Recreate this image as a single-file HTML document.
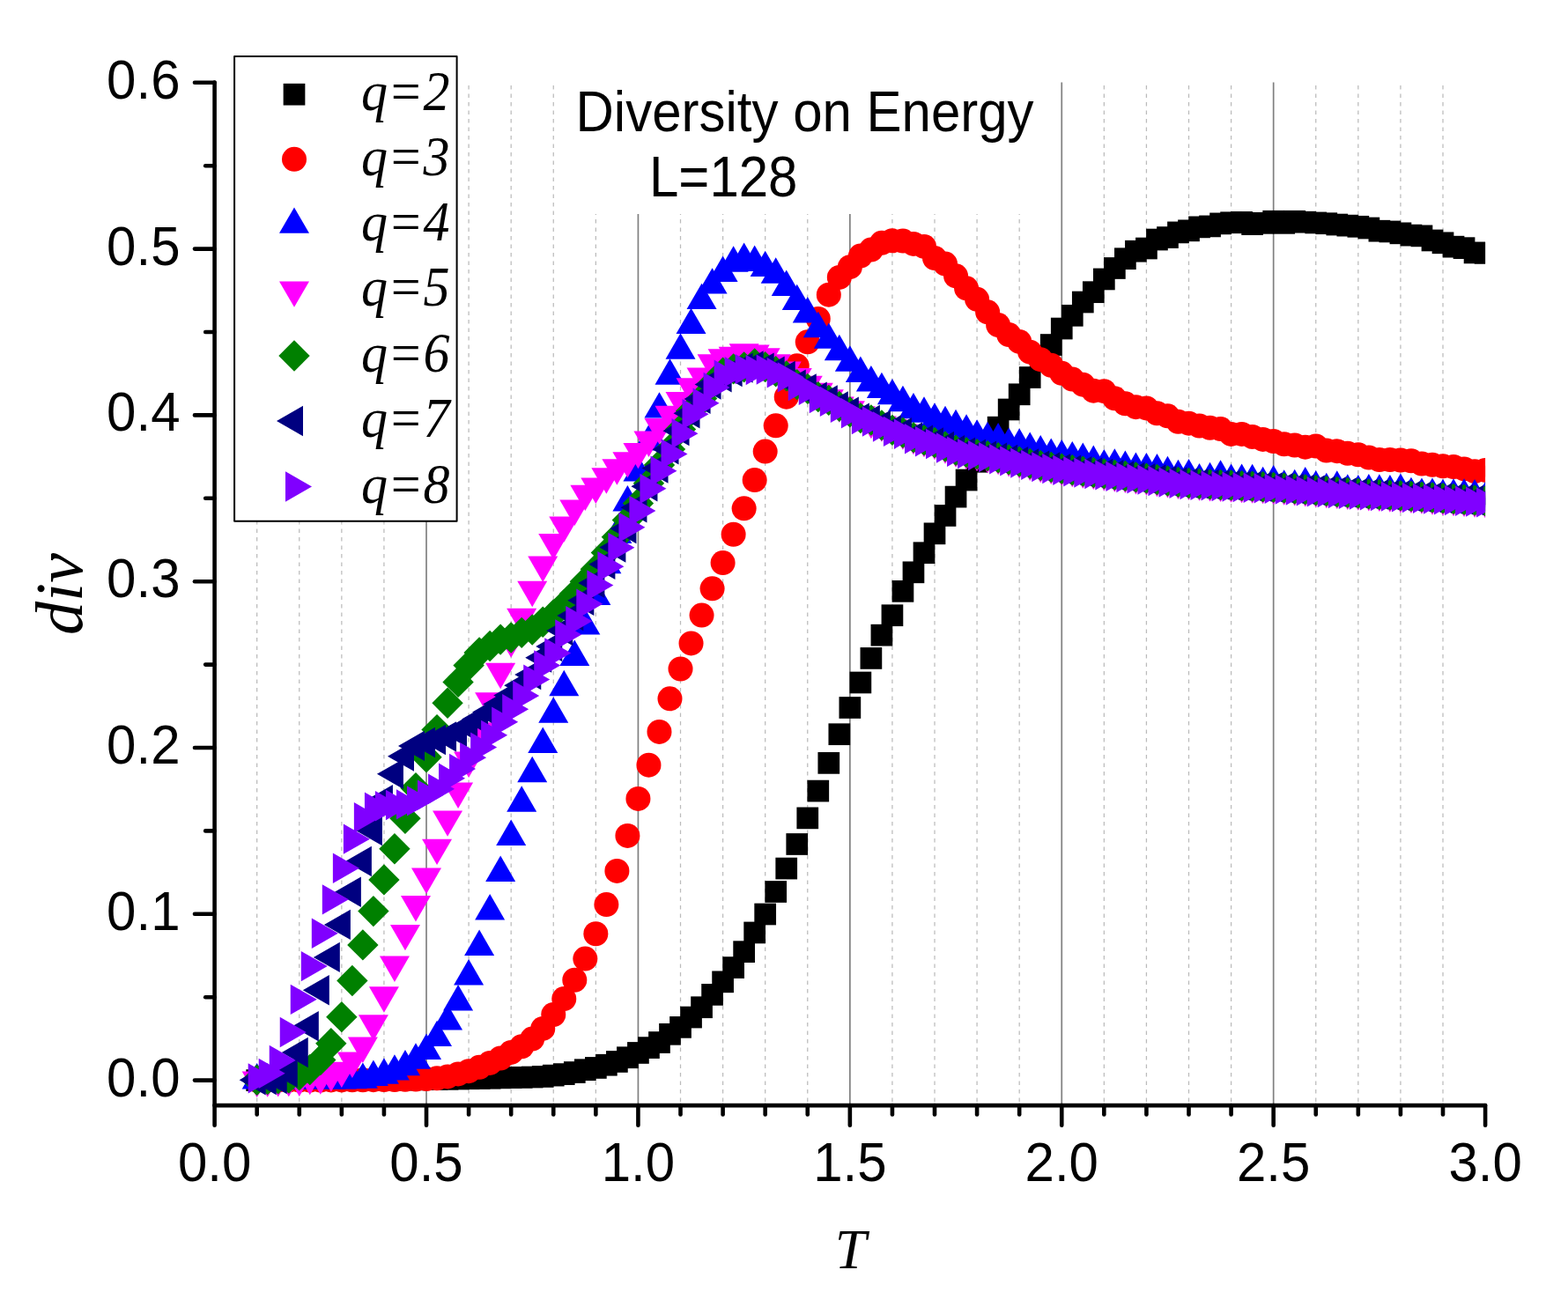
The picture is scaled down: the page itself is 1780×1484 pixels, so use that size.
<!DOCTYPE html><html><head><meta charset="utf-8"><style>html,body{margin:0;padding:0;background:#fff;}svg{display:block;}</style></head><body>
<svg width="1780" height="1484" viewBox="0 0 1780 1484">
<rect x="0" y="0" width="1780" height="1484" fill="#fff"/>
<defs><clipPath id="pc"><rect x="243.6" y="73.6" width="1442.5" height="1181.5"/></clipPath></defs>
<g><line x1="291.68" y1="93.6" x2="291.68" y2="1255.1" stroke="#bbbbbb" stroke-width="1.25" stroke-dasharray="4.5 5" stroke-dashoffset="6"/><line x1="339.77" y1="93.6" x2="339.77" y2="1255.1" stroke="#bbbbbb" stroke-width="1.25" stroke-dasharray="4.5 5" stroke-dashoffset="6"/><line x1="387.85" y1="93.6" x2="387.85" y2="1255.1" stroke="#bbbbbb" stroke-width="1.25" stroke-dasharray="4.5 5" stroke-dashoffset="6"/><line x1="435.93" y1="93.6" x2="435.93" y2="1255.1" stroke="#bbbbbb" stroke-width="1.25" stroke-dasharray="4.5 5" stroke-dashoffset="6"/><line x1="484.01" y1="93.6" x2="484.01" y2="1255.1" stroke="#808080" stroke-width="1.7"/><line x1="532.10" y1="93.6" x2="532.10" y2="1255.1" stroke="#bbbbbb" stroke-width="1.25" stroke-dasharray="4.5 5" stroke-dashoffset="6"/><line x1="580.18" y1="93.6" x2="580.18" y2="1255.1" stroke="#bbbbbb" stroke-width="1.25" stroke-dasharray="4.5 5" stroke-dashoffset="6"/><line x1="628.26" y1="93.6" x2="628.26" y2="1255.1" stroke="#bbbbbb" stroke-width="1.25" stroke-dasharray="4.5 5" stroke-dashoffset="6"/><line x1="676.35" y1="93.6" x2="676.35" y2="1255.1" stroke="#bbbbbb" stroke-width="1.25" stroke-dasharray="4.5 5" stroke-dashoffset="6"/><line x1="724.43" y1="93.6" x2="724.43" y2="1255.1" stroke="#808080" stroke-width="1.7"/><line x1="772.51" y1="93.6" x2="772.51" y2="1255.1" stroke="#bbbbbb" stroke-width="1.25" stroke-dasharray="4.5 5" stroke-dashoffset="6"/><line x1="820.60" y1="93.6" x2="820.60" y2="1255.1" stroke="#bbbbbb" stroke-width="1.25" stroke-dasharray="4.5 5" stroke-dashoffset="6"/><line x1="868.68" y1="93.6" x2="868.68" y2="1255.1" stroke="#bbbbbb" stroke-width="1.25" stroke-dasharray="4.5 5" stroke-dashoffset="6"/><line x1="916.76" y1="93.6" x2="916.76" y2="1255.1" stroke="#bbbbbb" stroke-width="1.25" stroke-dasharray="4.5 5" stroke-dashoffset="6"/><line x1="964.85" y1="93.6" x2="964.85" y2="1255.1" stroke="#808080" stroke-width="1.7"/><line x1="1012.93" y1="93.6" x2="1012.93" y2="1255.1" stroke="#bbbbbb" stroke-width="1.25" stroke-dasharray="4.5 5" stroke-dashoffset="6"/><line x1="1061.01" y1="93.6" x2="1061.01" y2="1255.1" stroke="#bbbbbb" stroke-width="1.25" stroke-dasharray="4.5 5" stroke-dashoffset="6"/><line x1="1109.09" y1="93.6" x2="1109.09" y2="1255.1" stroke="#bbbbbb" stroke-width="1.25" stroke-dasharray="4.5 5" stroke-dashoffset="6"/><line x1="1157.18" y1="93.6" x2="1157.18" y2="1255.1" stroke="#bbbbbb" stroke-width="1.25" stroke-dasharray="4.5 5" stroke-dashoffset="6"/><line x1="1205.26" y1="93.6" x2="1205.26" y2="1255.1" stroke="#808080" stroke-width="1.7"/><line x1="1253.34" y1="93.6" x2="1253.34" y2="1255.1" stroke="#bbbbbb" stroke-width="1.25" stroke-dasharray="4.5 5" stroke-dashoffset="6"/><line x1="1301.43" y1="93.6" x2="1301.43" y2="1255.1" stroke="#bbbbbb" stroke-width="1.25" stroke-dasharray="4.5 5" stroke-dashoffset="6"/><line x1="1349.51" y1="93.6" x2="1349.51" y2="1255.1" stroke="#bbbbbb" stroke-width="1.25" stroke-dasharray="4.5 5" stroke-dashoffset="6"/><line x1="1397.59" y1="93.6" x2="1397.59" y2="1255.1" stroke="#bbbbbb" stroke-width="1.25" stroke-dasharray="4.5 5" stroke-dashoffset="6"/><line x1="1445.67" y1="93.6" x2="1445.67" y2="1255.1" stroke="#808080" stroke-width="1.7"/><line x1="1493.76" y1="93.6" x2="1493.76" y2="1255.1" stroke="#bbbbbb" stroke-width="1.25" stroke-dasharray="4.5 5" stroke-dashoffset="6"/><line x1="1541.84" y1="93.6" x2="1541.84" y2="1255.1" stroke="#bbbbbb" stroke-width="1.25" stroke-dasharray="4.5 5" stroke-dashoffset="6"/><line x1="1589.92" y1="93.6" x2="1589.92" y2="1255.1" stroke="#bbbbbb" stroke-width="1.25" stroke-dasharray="4.5 5" stroke-dashoffset="6"/><line x1="1638.01" y1="93.6" x2="1638.01" y2="1255.1" stroke="#bbbbbb" stroke-width="1.25" stroke-dasharray="4.5 5" stroke-dashoffset="6"/></g>
<rect x="650" y="90" width="532" height="153" fill="#fff"/>
<g clip-path="url(#pc)">
<g fill="#000000"><rect x="279.33" y="1214.25" width="24.7" height="24.7"/><rect x="291.35" y="1214.24" width="24.7" height="24.7"/><rect x="303.37" y="1214.22" width="24.7" height="24.7"/><rect x="315.40" y="1214.20" width="24.7" height="24.7"/><rect x="327.42" y="1214.18" width="24.7" height="24.7"/><rect x="339.44" y="1214.15" width="24.7" height="24.7"/><rect x="351.46" y="1214.12" width="24.7" height="24.7"/><rect x="363.48" y="1214.09" width="24.7" height="24.7"/><rect x="375.50" y="1214.06" width="24.7" height="24.7"/><rect x="387.52" y="1214.03" width="24.7" height="24.7"/><rect x="399.54" y="1213.99" width="24.7" height="24.7"/><rect x="411.56" y="1213.94" width="24.7" height="24.7"/><rect x="423.58" y="1213.87" width="24.7" height="24.7"/><rect x="435.60" y="1213.78" width="24.7" height="24.7"/><rect x="447.62" y="1213.64" width="24.7" height="24.7"/><rect x="459.64" y="1213.48" width="24.7" height="24.7"/><rect x="471.66" y="1213.31" width="24.7" height="24.7"/><rect x="483.69" y="1213.11" width="24.7" height="24.7"/><rect x="495.71" y="1212.87" width="24.7" height="24.7"/><rect x="507.73" y="1212.62" width="24.7" height="24.7"/><rect x="519.75" y="1212.36" width="24.7" height="24.7"/><rect x="531.77" y="1212.09" width="24.7" height="24.7"/><rect x="543.79" y="1211.81" width="24.7" height="24.7"/><rect x="555.81" y="1211.52" width="24.7" height="24.7"/><rect x="567.83" y="1211.23" width="24.7" height="24.7"/><rect x="579.85" y="1210.97" width="24.7" height="24.7"/><rect x="591.87" y="1210.66" width="24.7" height="24.7"/><rect x="603.89" y="1210.10" width="24.7" height="24.7"/><rect x="615.91" y="1208.77" width="24.7" height="24.7"/><rect x="627.93" y="1207.26" width="24.7" height="24.7"/><rect x="639.96" y="1205.19" width="24.7" height="24.7"/><rect x="651.98" y="1202.36" width="24.7" height="24.7"/><rect x="664.00" y="1200.09" width="24.7" height="24.7"/><rect x="676.02" y="1196.88" width="24.7" height="24.7"/><rect x="688.04" y="1193.10" width="24.7" height="24.7"/><rect x="700.06" y="1188.38" width="24.7" height="24.7"/><rect x="712.08" y="1183.10" width="24.7" height="24.7"/><rect x="724.10" y="1177.25" width="24.7" height="24.7"/><rect x="736.12" y="1171.20" width="24.7" height="24.7"/><rect x="748.14" y="1161.95" width="24.7" height="24.7"/><rect x="760.16" y="1154.02" width="24.7" height="24.7"/><rect x="772.18" y="1142.69" width="24.7" height="24.7"/><rect x="784.20" y="1131.37" width="24.7" height="24.7"/><rect x="796.23" y="1117.02" width="24.7" height="24.7"/><rect x="808.25" y="1102.48" width="24.7" height="24.7"/><rect x="820.27" y="1086.24" width="24.7" height="24.7"/><rect x="832.29" y="1068.31" width="24.7" height="24.7"/><rect x="844.31" y="1046.60" width="24.7" height="24.7"/><rect x="856.33" y="1025.64" width="24.7" height="24.7"/><rect x="868.35" y="1000.15" width="24.7" height="24.7"/><rect x="880.37" y="973.72" width="24.7" height="24.7"/><rect x="892.39" y="946.15" width="24.7" height="24.7"/><rect x="904.41" y="916.51" width="24.7" height="24.7"/><rect x="916.43" y="885.74" width="24.7" height="24.7"/><rect x="928.45" y="854.02" width="24.7" height="24.7"/><rect x="940.47" y="821.36" width="24.7" height="24.7"/><rect x="952.50" y="791.15" width="24.7" height="24.7"/><rect x="964.52" y="762.64" width="24.7" height="24.7"/><rect x="976.54" y="735.08" width="24.7" height="24.7"/><rect x="988.56" y="708.83" width="24.7" height="24.7"/><rect x="1000.58" y="686.37" width="24.7" height="24.7"/><rect x="1012.60" y="658.99" width="24.7" height="24.7"/><rect x="1024.62" y="637.47" width="24.7" height="24.7"/><rect x="1036.64" y="615.38" width="24.7" height="24.7"/><rect x="1048.66" y="593.48" width="24.7" height="24.7"/><rect x="1060.68" y="573.09" width="24.7" height="24.7"/><rect x="1072.70" y="551.75" width="24.7" height="24.7"/><rect x="1084.72" y="532.68" width="24.7" height="24.7"/><rect x="1096.74" y="511.91" width="24.7" height="24.7"/><rect x="1108.76" y="491.15" width="24.7" height="24.7"/><rect x="1120.79" y="472.83" width="24.7" height="24.7"/><rect x="1132.81" y="452.63" width="24.7" height="24.7"/><rect x="1144.83" y="435.45" width="24.7" height="24.7"/><rect x="1156.85" y="416.19" width="24.7" height="24.7"/><rect x="1168.87" y="397.69" width="24.7" height="24.7"/><rect x="1180.89" y="379.19" width="24.7" height="24.7"/><rect x="1192.91" y="360.69" width="24.7" height="24.7"/><rect x="1204.93" y="345.96" width="24.7" height="24.7"/><rect x="1216.95" y="330.67" width="24.7" height="24.7"/><rect x="1228.97" y="319.34" width="24.7" height="24.7"/><rect x="1240.99" y="304.61" width="24.7" height="24.7"/><rect x="1253.01" y="292.15" width="24.7" height="24.7"/><rect x="1265.03" y="281.39" width="24.7" height="24.7"/><rect x="1277.06" y="272.89" width="24.7" height="24.7"/><rect x="1289.08" y="269.68" width="24.7" height="24.7"/><rect x="1301.10" y="259.68" width="24.7" height="24.7"/><rect x="1313.12" y="257.22" width="24.7" height="24.7"/><rect x="1325.14" y="251.56" width="24.7" height="24.7"/><rect x="1337.16" y="249.48" width="24.7" height="24.7"/><rect x="1349.18" y="245.52" width="24.7" height="24.7"/><rect x="1361.20" y="244.57" width="24.7" height="24.7"/><rect x="1373.22" y="241.55" width="24.7" height="24.7"/><rect x="1385.24" y="240.42" width="24.7" height="24.7"/><rect x="1397.26" y="240.04" width="24.7" height="24.7"/><rect x="1409.28" y="242.31" width="24.7" height="24.7"/><rect x="1421.30" y="240.99" width="24.7" height="24.7"/><rect x="1433.33" y="238.91" width="24.7" height="24.7"/><rect x="1445.35" y="240.99" width="24.7" height="24.7"/><rect x="1457.37" y="238.91" width="24.7" height="24.7"/><rect x="1469.39" y="239.85" width="24.7" height="24.7"/><rect x="1481.41" y="240.61" width="24.7" height="24.7"/><rect x="1493.43" y="241.36" width="24.7" height="24.7"/><rect x="1505.45" y="242.69" width="24.7" height="24.7"/><rect x="1517.47" y="243.78" width="24.7" height="24.7"/><rect x="1529.49" y="244.95" width="24.7" height="24.7"/><rect x="1541.51" y="246.65" width="24.7" height="24.7"/><rect x="1553.53" y="249.86" width="24.7" height="24.7"/><rect x="1565.55" y="250.61" width="24.7" height="24.7"/><rect x="1577.57" y="252.50" width="24.7" height="24.7"/><rect x="1589.59" y="254.77" width="24.7" height="24.7"/><rect x="1601.62" y="255.52" width="24.7" height="24.7"/><rect x="1613.64" y="260.62" width="24.7" height="24.7"/><rect x="1625.66" y="263.45" width="24.7" height="24.7"/><rect x="1637.68" y="267.80" width="24.7" height="24.7"/><rect x="1649.70" y="269.31" width="24.7" height="24.7"/><rect x="1661.72" y="274.59" width="24.7" height="24.7"/><rect x="1673.74" y="274.97" width="24.7" height="24.7"/></g>
<g fill="#ff0000"><circle cx="291.68" cy="1226.60" r="14"/><circle cx="303.70" cy="1226.60" r="14"/><circle cx="315.72" cy="1226.59" r="14"/><circle cx="327.75" cy="1226.57" r="14"/><circle cx="339.77" cy="1226.54" r="14"/><circle cx="351.79" cy="1226.52" r="14"/><circle cx="363.81" cy="1226.48" r="14"/><circle cx="375.83" cy="1226.45" r="14"/><circle cx="387.85" cy="1226.41" r="14"/><circle cx="399.87" cy="1226.37" r="14"/><circle cx="411.89" cy="1226.30" r="14"/><circle cx="423.91" cy="1226.22" r="14"/><circle cx="435.93" cy="1226.12" r="14"/><circle cx="447.95" cy="1226.00" r="14"/><circle cx="459.97" cy="1225.84" r="14"/><circle cx="471.99" cy="1225.56" r="14"/><circle cx="484.01" cy="1225.09" r="14"/><circle cx="496.04" cy="1224.33" r="14"/><circle cx="508.06" cy="1222.45" r="14"/><circle cx="520.08" cy="1219.43" r="14"/><circle cx="532.10" cy="1216.22" r="14"/><circle cx="544.12" cy="1211.87" r="14"/><circle cx="556.14" cy="1206.96" r="14"/><circle cx="568.16" cy="1201.49" r="14"/><circle cx="580.18" cy="1194.88" r="14"/><circle cx="592.20" cy="1188.27" r="14"/><circle cx="604.22" cy="1179.59" r="14"/><circle cx="616.24" cy="1167.88" r="14"/><circle cx="628.26" cy="1152.02" r="14"/><circle cx="640.28" cy="1134.09" r="14"/><circle cx="652.31" cy="1112.75" r="14"/><circle cx="664.33" cy="1088.59" r="14"/><circle cx="676.35" cy="1060.27" r="14"/><circle cx="688.37" cy="1027.04" r="14"/><circle cx="700.39" cy="988.90" r="14"/><circle cx="712.41" cy="948.88" r="14"/><circle cx="724.43" cy="906.96" r="14"/><circle cx="736.45" cy="868.64" r="14"/><circle cx="748.47" cy="830.88" r="14"/><circle cx="760.49" cy="793.30" r="14"/><circle cx="772.51" cy="759.51" r="14"/><circle cx="784.53" cy="730.43" r="14"/><circle cx="796.55" cy="698.53" r="14"/><circle cx="808.58" cy="668.32" r="14"/><circle cx="820.60" cy="639.05" r="14"/><circle cx="832.62" cy="606.77" r="14"/><circle cx="844.64" cy="577.32" r="14"/><circle cx="856.66" cy="545.03" r="14"/><circle cx="868.68" cy="512.56" r="14"/><circle cx="880.70" cy="483.29" r="14"/><circle cx="892.72" cy="450.63" r="14"/><circle cx="904.74" cy="415.33" r="14"/><circle cx="916.76" cy="388.33" r="14"/><circle cx="928.78" cy="361.90" r="14"/><circle cx="940.80" cy="334.71" r="14"/><circle cx="952.82" cy="314.88" r="14"/><circle cx="964.85" cy="303.18" r="14"/><circle cx="976.87" cy="290.53" r="14"/><circle cx="988.89" cy="283.54" r="14"/><circle cx="1000.91" cy="275.80" r="14"/><circle cx="1012.93" cy="273.35" r="14"/><circle cx="1024.95" cy="273.54" r="14"/><circle cx="1036.97" cy="276.94" r="14"/><circle cx="1048.99" cy="279.96" r="14"/><circle cx="1061.01" cy="292.98" r="14"/><circle cx="1073.03" cy="299.59" r="14"/><circle cx="1085.05" cy="313.37" r="14"/><circle cx="1097.07" cy="327.35" r="14"/><circle cx="1109.09" cy="339.81" r="14"/><circle cx="1121.11" cy="354.34" r="14"/><circle cx="1133.14" cy="369.07" r="14"/><circle cx="1145.16" cy="380.02" r="14"/><circle cx="1157.18" cy="387.95" r="14"/><circle cx="1169.20" cy="399.66" r="14"/><circle cx="1181.22" cy="408.15" r="14"/><circle cx="1193.24" cy="414.76" r="14"/><circle cx="1205.26" cy="423.82" r="14"/><circle cx="1217.28" cy="430.62" r="14"/><circle cx="1229.30" cy="436.66" r="14"/><circle cx="1241.32" cy="443.65" r="14"/><circle cx="1253.34" cy="444.21" r="14"/><circle cx="1265.36" cy="452.33" r="14"/><circle cx="1277.38" cy="458.37" r="14"/><circle cx="1289.41" cy="462.15" r="14"/><circle cx="1301.43" cy="463.47" r="14"/><circle cx="1313.45" cy="469.32" r="14"/><circle cx="1325.47" cy="472.34" r="14"/><circle cx="1337.49" cy="478.76" r="14"/><circle cx="1349.51" cy="480.65" r="14"/><circle cx="1361.53" cy="483.48" r="14"/><circle cx="1373.55" cy="485.75" r="14"/><circle cx="1385.57" cy="487.07" r="14"/><circle cx="1397.59" cy="492.92" r="14"/><circle cx="1409.61" cy="492.92" r="14"/><circle cx="1421.63" cy="495.94" r="14"/><circle cx="1433.65" cy="498.96" r="14"/><circle cx="1445.67" cy="501.04" r="14"/><circle cx="1457.70" cy="504.25" r="14"/><circle cx="1469.72" cy="505.57" r="14"/><circle cx="1481.74" cy="507.65" r="14"/><circle cx="1493.76" cy="506.52" r="14"/><circle cx="1505.78" cy="511.61" r="14"/><circle cx="1517.80" cy="512.18" r="14"/><circle cx="1529.82" cy="514.82" r="14"/><circle cx="1541.84" cy="516.33" r="14"/><circle cx="1553.86" cy="519.54" r="14"/><circle cx="1565.88" cy="522.00" r="14"/><circle cx="1577.90" cy="522.00" r="14"/><circle cx="1589.92" cy="522.56" r="14"/><circle cx="1601.94" cy="523.32" r="14"/><circle cx="1613.97" cy="526.53" r="14"/><circle cx="1625.99" cy="527.85" r="14"/><circle cx="1638.01" cy="529.36" r="14"/><circle cx="1650.03" cy="530.12" r="14"/><circle cx="1662.05" cy="532.38" r="14"/><circle cx="1674.07" cy="535.21" r="14"/><circle cx="1686.09" cy="533.89" r="14"/></g>
<g fill="#0000ff"><path d="M291.68 1207.00l17 29.4h-34z"/><path d="M303.70 1207.00l17 29.4h-34z"/><path d="M315.72 1207.00l17 29.4h-34z"/><path d="M327.75 1207.00l17 29.4h-34z"/><path d="M339.77 1207.00l17 29.4h-34z"/><path d="M351.79 1207.00l17 29.4h-34z"/><path d="M363.81 1207.00l17 29.4h-34z"/><path d="M375.83 1207.00l17 29.4h-34z"/><path d="M387.85 1207.00l17 29.4h-34z"/><path d="M399.87 1206.86l17 29.4h-34z"/><path d="M411.89 1206.43l17 29.4h-34z"/><path d="M423.91 1203.60l17 29.4h-34z"/><path d="M435.93 1201.34l17 29.4h-34z"/><path d="M447.95 1197.18l17 29.4h-34z"/><path d="M459.97 1191.90l17 29.4h-34z"/><path d="M471.99 1184.34l17 29.4h-34z"/><path d="M484.01 1173.58l17 29.4h-34z"/><path d="M496.04 1158.67l17 29.4h-34z"/><path d="M508.06 1140.16l17 29.4h-34z"/><path d="M520.08 1118.08l17 29.4h-34z"/><path d="M532.10 1089.00l17 29.4h-34z"/><path d="M544.12 1055.58l17 29.4h-34z"/><path d="M556.14 1014.99l17 29.4h-34z"/><path d="M568.16 971.57l17 29.4h-34z"/><path d="M580.18 930.60l17 29.4h-34z"/><path d="M592.20 892.27l17 29.4h-34z"/><path d="M604.22 858.85l17 29.4h-34z"/><path d="M616.24 825.62l17 29.4h-34z"/><path d="M628.26 791.26l17 29.4h-34z"/><path d="M640.28 760.87l17 29.4h-34z"/><path d="M652.31 726.50l17 29.4h-34z"/><path d="M664.33 691.20l17 29.4h-34z"/><path d="M676.35 657.59l17 29.4h-34z"/><path d="M688.37 621.91l17 29.4h-34z"/><path d="M700.39 587.55l17 29.4h-34z"/><path d="M712.41 551.11l17 29.4h-34z"/><path d="M724.43 517.12l17 29.4h-34z"/><path d="M736.45 482.01l17 29.4h-34z"/><path d="M748.47 445.19l17 29.4h-34z"/><path d="M760.49 407.24l17 29.4h-34z"/><path d="M772.51 378.36l17 29.4h-34z"/><path d="M784.53 349.66l17 29.4h-34z"/><path d="M796.55 321.72l17 29.4h-34z"/><path d="M808.58 304.16l17 29.4h-34z"/><path d="M820.60 290.56l17 29.4h-34z"/><path d="M832.62 279.24l17 29.4h-34z"/><path d="M844.64 275.46l17 29.4h-34z"/><path d="M856.66 278.48l17 29.4h-34z"/><path d="M868.68 284.71l17 29.4h-34z"/><path d="M880.70 292.26l17 29.4h-34z"/><path d="M892.72 306.61l17 29.4h-34z"/><path d="M904.74 322.66l17 29.4h-34z"/><path d="M916.76 337.01l17 29.4h-34z"/><path d="M928.78 353.81l17 29.4h-34z"/><path d="M940.80 366.46l17 29.4h-34z"/><path d="M952.82 379.87l17 29.4h-34z"/><path d="M964.85 392.33l17 29.4h-34z"/><path d="M976.87 404.60l17 29.4h-34z"/><path d="M988.89 414.98l17 29.4h-34z"/><path d="M1000.91 422.72l17 29.4h-34z"/><path d="M1012.93 429.90l17 29.4h-34z"/><path d="M1024.95 437.83l17 29.4h-34z"/><path d="M1036.97 445.95l17 29.4h-34z"/><path d="M1048.99 450.29l17 29.4h-34z"/><path d="M1061.01 457.28l17 29.4h-34z"/><path d="M1073.03 460.86l17 29.4h-34z"/><path d="M1085.05 464.83l17 29.4h-34z"/><path d="M1097.07 470.30l17 29.4h-34z"/><path d="M1109.09 476.16l17 29.4h-34z"/><path d="M1121.11 478.80l17 29.4h-34z"/><path d="M1133.14 480.12l17 29.4h-34z"/><path d="M1145.16 485.60l17 29.4h-34z"/><path d="M1157.18 486.35l17 29.4h-34z"/><path d="M1169.20 490.50l17 29.4h-34z"/><path d="M1181.22 494.09l17 29.4h-34z"/><path d="M1193.24 497.49l17 29.4h-34z"/><path d="M1205.26 499.00l17 29.4h-34z"/><path d="M1217.28 500.89l17 29.4h-34z"/><path d="M1229.30 502.59l17 29.4h-34z"/><path d="M1241.32 505.61l17 29.4h-34z"/><path d="M1253.34 509.95l17 29.4h-34z"/><path d="M1265.36 509.20l17 29.4h-34z"/><path d="M1277.38 511.46l17 29.4h-34z"/><path d="M1289.41 513.54l17 29.4h-34z"/><path d="M1301.43 513.92l17 29.4h-34z"/><path d="M1313.45 515.05l17 29.4h-34z"/><path d="M1325.47 517.69l17 29.4h-34z"/><path d="M1337.49 521.66l17 29.4h-34z"/><path d="M1349.51 520.90l17 29.4h-34z"/><path d="M1361.53 526.00l17 29.4h-34z"/><path d="M1373.55 524.87l17 29.4h-34z"/><path d="M1385.57 522.22l17 29.4h-34z"/><path d="M1397.59 526.38l17 29.4h-34z"/><path d="M1409.61 526.38l17 29.4h-34z"/><path d="M1421.63 526.75l17 29.4h-34z"/><path d="M1433.65 529.77l17 29.4h-34z"/><path d="M1445.67 528.08l17 29.4h-34z"/><path d="M1457.70 533.17l17 29.4h-34z"/><path d="M1469.72 532.80l17 29.4h-34z"/><path d="M1481.74 529.96l17 29.4h-34z"/><path d="M1493.76 533.93l17 29.4h-34z"/><path d="M1505.78 536.76l17 29.4h-34z"/><path d="M1517.80 534.31l17 29.4h-34z"/><path d="M1529.82 538.27l17 29.4h-34z"/><path d="M1541.84 539.03l17 29.4h-34z"/><path d="M1553.86 537.89l17 29.4h-34z"/><path d="M1565.88 538.27l17 29.4h-34z"/><path d="M1577.90 539.03l17 29.4h-34z"/><path d="M1589.92 537.52l17 29.4h-34z"/><path d="M1601.94 541.67l17 29.4h-34z"/><path d="M1613.97 542.42l17 29.4h-34z"/><path d="M1625.99 542.42l17 29.4h-34z"/><path d="M1638.01 543.75l17 29.4h-34z"/><path d="M1650.03 543.37l17 29.4h-34z"/><path d="M1662.05 543.37l17 29.4h-34z"/><path d="M1674.07 543.93l17 29.4h-34z"/><path d="M1686.09 546.77l17 29.4h-34z"/></g>
<g fill="#ff00ff"><path d="M291.68 1246.01l17 -29.4h-34z"/><path d="M303.70 1245.73l17 -29.4h-34z"/><path d="M315.72 1245.44l17 -29.4h-34z"/><path d="M327.75 1245.22l17 -29.4h-34z"/><path d="M339.77 1244.88l17 -29.4h-34z"/><path d="M351.79 1243.18l17 -29.4h-34z"/><path d="M363.81 1242.80l17 -29.4h-34z"/><path d="M375.83 1239.78l17 -29.4h-34z"/><path d="M387.85 1235.06l17 -29.4h-34z"/><path d="M399.87 1223.92l17 -29.4h-34z"/><path d="M411.89 1206.93l17 -29.4h-34z"/><path d="M423.91 1181.63l17 -29.4h-34z"/><path d="M435.93 1149.72l17 -29.4h-34z"/><path d="M447.95 1114.98l17 -29.4h-34z"/><path d="M459.97 1079.30l17 -29.4h-34z"/><path d="M471.99 1046.45l17 -29.4h-34z"/><path d="M484.01 1014.92l17 -29.4h-34z"/><path d="M496.04 982.07l17 -29.4h-34z"/><path d="M508.06 949.78l17 -29.4h-34z"/><path d="M520.08 917.88l17 -29.4h-34z"/><path d="M532.10 882.95l17 -29.4h-34z"/><path d="M544.12 849.72l17 -29.4h-34z"/><path d="M556.14 815.74l17 -29.4h-34z"/><path d="M568.16 782.13l17 -29.4h-34z"/><path d="M580.18 746.82l17 -29.4h-34z"/><path d="M592.20 720.20l17 -29.4h-34z"/><path d="M604.22 689.24l17 -29.4h-34z"/><path d="M616.24 660.92l17 -29.4h-34z"/><path d="M628.26 635.43l17 -29.4h-34z"/><path d="M640.28 615.80l17 -29.4h-34z"/><path d="M652.31 596.92l17 -29.4h-34z"/><path d="M664.33 580.11l17 -29.4h-34z"/><path d="M676.35 572.00l17 -29.4h-34z"/><path d="M688.37 560.67l17 -29.4h-34z"/><path d="M700.39 550.66l17 -29.4h-34z"/><path d="M712.41 542.54l17 -29.4h-34z"/><path d="M724.43 532.35l17 -29.4h-34z"/><path d="M736.45 518.94l17 -29.4h-34z"/><path d="M748.47 504.40l17 -29.4h-34z"/><path d="M760.49 490.06l17 -29.4h-34z"/><path d="M772.51 474.39l17 -29.4h-34z"/><path d="M784.53 458.72l17 -29.4h-34z"/><path d="M796.55 446.82l17 -29.4h-34z"/><path d="M808.58 431.72l17 -29.4h-34z"/><path d="M820.60 425.68l17 -29.4h-34z"/><path d="M832.62 423.22l17 -29.4h-34z"/><path d="M844.64 419.63l17 -29.4h-34z"/><path d="M856.66 420.96l17 -29.4h-34z"/><path d="M868.68 424.73l17 -29.4h-34z"/><path d="M880.70 431.72l17 -29.4h-34z"/><path d="M892.72 440.02l17 -29.4h-34z"/><path d="M904.74 447.39l17 -29.4h-34z"/><path d="M916.76 456.07l17 -29.4h-34z"/><path d="M928.78 464.19l17 -29.4h-34z"/><path d="M940.80 471.74l17 -29.4h-34z"/><path d="M952.82 479.86l17 -29.4h-34z"/><path d="M964.85 484.77l17 -29.4h-34z"/><path d="M976.87 490.62l17 -29.4h-34z"/><path d="M988.89 498.17l17 -29.4h-34z"/><path d="M1000.91 501.84l17 -29.4h-34z"/><path d="M1012.93 505.16l17 -29.4h-34z"/><path d="M1024.95 510.84l17 -29.4h-34z"/><path d="M1036.97 516.30l17 -29.4h-34z"/><path d="M1048.99 519.31l17 -29.4h-34z"/><path d="M1061.01 522.15l17 -29.4h-34z"/><path d="M1073.03 526.64l17 -29.4h-34z"/><path d="M1085.05 530.84l17 -29.4h-34z"/><path d="M1097.07 533.20l17 -29.4h-34z"/><path d="M1109.09 535.18l17 -29.4h-34z"/><path d="M1121.11 537.26l17 -29.4h-34z"/><path d="M1133.14 539.33l17 -29.4h-34z"/><path d="M1145.16 541.48l17 -29.4h-34z"/><path d="M1157.18 543.68l17 -29.4h-34z"/><path d="M1169.20 545.99l17 -29.4h-34z"/><path d="M1181.22 548.21l17 -29.4h-34z"/><path d="M1193.24 550.10l17 -29.4h-34z"/><path d="M1205.26 551.79l17 -29.4h-34z"/><path d="M1217.28 553.32l17 -29.4h-34z"/><path d="M1229.30 554.74l17 -29.4h-34z"/><path d="M1241.32 556.10l17 -29.4h-34z"/><path d="M1253.34 557.46l17 -29.4h-34z"/><path d="M1265.36 558.80l17 -29.4h-34z"/><path d="M1277.38 560.12l17 -29.4h-34z"/><path d="M1289.41 561.43l17 -29.4h-34z"/><path d="M1301.43 562.74l17 -29.4h-34z"/><path d="M1313.45 564.15l17 -29.4h-34z"/><path d="M1325.47 565.61l17 -29.4h-34z"/><path d="M1337.49 566.96l17 -29.4h-34z"/><path d="M1349.51 568.03l17 -29.4h-34z"/><path d="M1361.53 568.82l17 -29.4h-34z"/><path d="M1373.55 569.49l17 -29.4h-34z"/><path d="M1385.57 570.08l17 -29.4h-34z"/><path d="M1397.59 570.67l17 -29.4h-34z"/><path d="M1409.61 571.24l17 -29.4h-34z"/><path d="M1421.63 571.77l17 -29.4h-34z"/><path d="M1433.65 572.32l17 -29.4h-34z"/><path d="M1445.67 572.94l17 -29.4h-34z"/><path d="M1457.70 573.69l17 -29.4h-34z"/><path d="M1469.72 574.55l17 -29.4h-34z"/><path d="M1481.74 575.46l17 -29.4h-34z"/><path d="M1493.76 576.34l17 -29.4h-34z"/><path d="M1505.78 577.21l17 -29.4h-34z"/><path d="M1517.80 578.09l17 -29.4h-34z"/><path d="M1529.82 578.95l17 -29.4h-34z"/><path d="M1541.84 579.74l17 -29.4h-34z"/><path d="M1553.86 580.44l17 -29.4h-34z"/><path d="M1565.88 581.08l17 -29.4h-34z"/><path d="M1577.90 581.71l17 -29.4h-34z"/><path d="M1589.92 582.38l17 -29.4h-34z"/><path d="M1601.94 583.11l17 -29.4h-34z"/><path d="M1613.97 583.86l17 -29.4h-34z"/><path d="M1625.99 584.64l17 -29.4h-34z"/><path d="M1638.01 585.40l17 -29.4h-34z"/><path d="M1650.03 586.16l17 -29.4h-34z"/><path d="M1662.05 586.91l17 -29.4h-34z"/><path d="M1674.07 587.67l17 -29.4h-34z"/><path d="M1686.09 588.42l17 -29.4h-34z"/></g>
<g fill="#008000"><path d="M291.68 1208.52l17.7 17.7l-17.7 17.7l-17.7 -17.7z"/><path d="M303.70 1207.96l17.7 17.7l-17.7 17.7l-17.7 -17.7z"/><path d="M315.72 1207.01l17.7 17.7l-17.7 17.7l-17.7 -17.7z"/><path d="M327.75 1206.26l17.7 17.7l-17.7 17.7l-17.7 -17.7z"/><path d="M339.77 1203.05l17.7 17.7l-17.7 17.7l-17.7 -17.7z"/><path d="M351.79 1196.82l17.7 17.7l-17.7 17.7l-17.7 -17.7z"/><path d="M363.81 1185.87l17.7 17.7l-17.7 17.7l-17.7 -17.7z"/><path d="M375.83 1166.99l17.7 17.7l-17.7 17.7l-17.7 -17.7z"/><path d="M387.85 1136.97l17.7 17.7l-17.7 17.7l-17.7 -17.7z"/><path d="M399.87 1095.81l17.7 17.7l-17.7 17.7l-17.7 -17.7z"/><path d="M411.89 1055.22l17.7 17.7l-17.7 17.7l-17.7 -17.7z"/><path d="M423.91 1016.89l17.7 17.7l-17.7 17.7l-17.7 -17.7z"/><path d="M435.93 981.21l17.7 17.7l-17.7 17.7l-17.7 -17.7z"/><path d="M447.95 946.09l17.7 17.7l-17.7 17.7l-17.7 -17.7z"/><path d="M459.97 911.54l17.7 17.7l-17.7 17.7l-17.7 -17.7z"/><path d="M471.99 876.99l17.7 17.7l-17.7 17.7l-17.7 -17.7z"/><path d="M484.01 842.06l17.7 17.7l-17.7 17.7l-17.7 -17.7z"/><path d="M496.04 810.91l17.7 17.7l-17.7 17.7l-17.7 -17.7z"/><path d="M508.06 780.51l17.7 17.7l-17.7 17.7l-17.7 -17.7z"/><path d="M520.08 756.72l17.7 17.7l-17.7 17.7l-17.7 -17.7z"/><path d="M532.10 737.84l17.7 17.7l-17.7 17.7l-17.7 -17.7z"/><path d="M544.12 723.31l17.7 17.7l-17.7 17.7l-17.7 -17.7z"/><path d="M556.14 715.75l17.7 17.7l-17.7 17.7l-17.7 -17.7z"/><path d="M568.16 708.39l17.7 17.7l-17.7 17.7l-17.7 -17.7z"/><path d="M580.18 706.31l17.7 17.7l-17.7 17.7l-17.7 -17.7z"/><path d="M592.20 700.65l17.7 17.7l-17.7 17.7l-17.7 -17.7z"/><path d="M604.22 697.25l17.7 17.7l-17.7 17.7l-17.7 -17.7z"/><path d="M616.24 688.57l17.7 17.7l-17.7 17.7l-17.7 -17.7z"/><path d="M628.26 680.26l17.7 17.7l-17.7 17.7l-17.7 -17.7z"/><path d="M640.28 668.93l17.7 17.7l-17.7 17.7l-17.7 -17.7z"/><path d="M652.31 656.66l17.7 17.7l-17.7 17.7l-17.7 -17.7z"/><path d="M664.33 642.50l17.7 17.7l-17.7 17.7l-17.7 -17.7z"/><path d="M676.35 628.53l17.7 17.7l-17.7 17.7l-17.7 -17.7z"/><path d="M688.37 609.84l17.7 17.7l-17.7 17.7l-17.7 -17.7z"/><path d="M700.39 592.09l17.7 17.7l-17.7 17.7l-17.7 -17.7z"/><path d="M712.41 572.83l17.7 17.7l-17.7 17.7l-17.7 -17.7z"/><path d="M724.43 553.76l17.7 17.7l-17.7 17.7l-17.7 -17.7z"/><path d="M736.45 531.11l17.7 17.7l-17.7 17.7l-17.7 -17.7z"/><path d="M748.47 510.34l17.7 17.7l-17.7 17.7l-17.7 -17.7z"/><path d="M760.49 492.40l17.7 17.7l-17.7 17.7l-17.7 -17.7z"/><path d="M772.51 469.75l17.7 17.7l-17.7 17.7l-17.7 -17.7z"/><path d="M784.53 448.98l17.7 17.7l-17.7 17.7l-17.7 -17.7z"/><path d="M796.55 434.82l17.7 17.7l-17.7 17.7l-17.7 -17.7z"/><path d="M808.58 417.83l17.7 17.7l-17.7 17.7l-17.7 -17.7z"/><path d="M820.60 405.56l17.7 17.7l-17.7 17.7l-17.7 -17.7z"/><path d="M832.62 401.21l17.7 17.7l-17.7 17.7l-17.7 -17.7z"/><path d="M844.64 399.14l17.7 17.7l-17.7 17.7l-17.7 -17.7z"/><path d="M856.66 395.36l17.7 17.7l-17.7 17.7l-17.7 -17.7z"/><path d="M868.68 398.95l17.7 17.7l-17.7 17.7l-17.7 -17.7z"/><path d="M880.70 404.05l17.7 17.7l-17.7 17.7l-17.7 -17.7z"/><path d="M892.72 409.14l17.7 17.7l-17.7 17.7l-17.7 -17.7z"/><path d="M904.74 418.96l17.7 17.7l-17.7 17.7l-17.7 -17.7z"/><path d="M916.76 423.68l17.7 17.7l-17.7 17.7l-17.7 -17.7z"/><path d="M928.78 432.93l17.7 17.7l-17.7 17.7l-17.7 -17.7z"/><path d="M940.80 436.71l17.7 17.7l-17.7 17.7l-17.7 -17.7z"/><path d="M952.82 443.69l17.7 17.7l-17.7 17.7l-17.7 -17.7z"/><path d="M964.85 450.11l17.7 17.7l-17.7 17.7l-17.7 -17.7z"/><path d="M976.87 456.91l17.7 17.7l-17.7 17.7l-17.7 -17.7z"/><path d="M988.89 459.36l17.7 17.7l-17.7 17.7l-17.7 -17.7z"/><path d="M1000.91 465.22l17.7 17.7l-17.7 17.7l-17.7 -17.7z"/><path d="M1012.93 470.69l17.7 17.7l-17.7 17.7l-17.7 -17.7z"/><path d="M1024.95 473.52l17.7 17.7l-17.7 17.7l-17.7 -17.7z"/><path d="M1036.97 479.00l17.7 17.7l-17.7 17.7l-17.7 -17.7z"/><path d="M1048.99 482.04l17.7 17.7l-17.7 17.7l-17.7 -17.7z"/><path d="M1061.01 484.85l17.7 17.7l-17.7 17.7l-17.7 -17.7z"/><path d="M1073.03 489.34l17.7 17.7l-17.7 17.7l-17.7 -17.7z"/><path d="M1085.05 493.54l17.7 17.7l-17.7 17.7l-17.7 -17.7z"/><path d="M1097.07 495.90l17.7 17.7l-17.7 17.7l-17.7 -17.7z"/><path d="M1109.09 497.88l17.7 17.7l-17.7 17.7l-17.7 -17.7z"/><path d="M1121.11 499.96l17.7 17.7l-17.7 17.7l-17.7 -17.7z"/><path d="M1133.14 502.03l17.7 17.7l-17.7 17.7l-17.7 -17.7z"/><path d="M1145.16 504.18l17.7 17.7l-17.7 17.7l-17.7 -17.7z"/><path d="M1157.18 506.38l17.7 17.7l-17.7 17.7l-17.7 -17.7z"/><path d="M1169.20 508.69l17.7 17.7l-17.7 17.7l-17.7 -17.7z"/><path d="M1181.22 510.91l17.7 17.7l-17.7 17.7l-17.7 -17.7z"/><path d="M1193.24 512.80l17.7 17.7l-17.7 17.7l-17.7 -17.7z"/><path d="M1205.26 514.49l17.7 17.7l-17.7 17.7l-17.7 -17.7z"/><path d="M1217.28 516.02l17.7 17.7l-17.7 17.7l-17.7 -17.7z"/><path d="M1229.30 517.44l17.7 17.7l-17.7 17.7l-17.7 -17.7z"/><path d="M1241.32 518.80l17.7 17.7l-17.7 17.7l-17.7 -17.7z"/><path d="M1253.34 520.16l17.7 17.7l-17.7 17.7l-17.7 -17.7z"/><path d="M1265.36 521.50l17.7 17.7l-17.7 17.7l-17.7 -17.7z"/><path d="M1277.38 522.82l17.7 17.7l-17.7 17.7l-17.7 -17.7z"/><path d="M1289.41 524.13l17.7 17.7l-17.7 17.7l-17.7 -17.7z"/><path d="M1301.43 525.44l17.7 17.7l-17.7 17.7l-17.7 -17.7z"/><path d="M1313.45 526.85l17.7 17.7l-17.7 17.7l-17.7 -17.7z"/><path d="M1325.47 528.31l17.7 17.7l-17.7 17.7l-17.7 -17.7z"/><path d="M1337.49 529.66l17.7 17.7l-17.7 17.7l-17.7 -17.7z"/><path d="M1349.51 530.73l17.7 17.7l-17.7 17.7l-17.7 -17.7z"/><path d="M1361.53 531.52l17.7 17.7l-17.7 17.7l-17.7 -17.7z"/><path d="M1373.55 532.19l17.7 17.7l-17.7 17.7l-17.7 -17.7z"/><path d="M1385.57 532.78l17.7 17.7l-17.7 17.7l-17.7 -17.7z"/><path d="M1397.59 533.37l17.7 17.7l-17.7 17.7l-17.7 -17.7z"/><path d="M1409.61 533.94l17.7 17.7l-17.7 17.7l-17.7 -17.7z"/><path d="M1421.63 534.47l17.7 17.7l-17.7 17.7l-17.7 -17.7z"/><path d="M1433.65 535.02l17.7 17.7l-17.7 17.7l-17.7 -17.7z"/><path d="M1445.67 535.64l17.7 17.7l-17.7 17.7l-17.7 -17.7z"/><path d="M1457.70 536.39l17.7 17.7l-17.7 17.7l-17.7 -17.7z"/><path d="M1469.72 537.25l17.7 17.7l-17.7 17.7l-17.7 -17.7z"/><path d="M1481.74 538.16l17.7 17.7l-17.7 17.7l-17.7 -17.7z"/><path d="M1493.76 539.04l17.7 17.7l-17.7 17.7l-17.7 -17.7z"/><path d="M1505.78 539.91l17.7 17.7l-17.7 17.7l-17.7 -17.7z"/><path d="M1517.80 540.79l17.7 17.7l-17.7 17.7l-17.7 -17.7z"/><path d="M1529.82 541.65l17.7 17.7l-17.7 17.7l-17.7 -17.7z"/><path d="M1541.84 542.44l17.7 17.7l-17.7 17.7l-17.7 -17.7z"/><path d="M1553.86 543.14l17.7 17.7l-17.7 17.7l-17.7 -17.7z"/><path d="M1565.88 543.78l17.7 17.7l-17.7 17.7l-17.7 -17.7z"/><path d="M1577.90 544.41l17.7 17.7l-17.7 17.7l-17.7 -17.7z"/><path d="M1589.92 545.08l17.7 17.7l-17.7 17.7l-17.7 -17.7z"/><path d="M1601.94 545.81l17.7 17.7l-17.7 17.7l-17.7 -17.7z"/><path d="M1613.97 546.56l17.7 17.7l-17.7 17.7l-17.7 -17.7z"/><path d="M1625.99 547.34l17.7 17.7l-17.7 17.7l-17.7 -17.7z"/><path d="M1638.01 548.10l17.7 17.7l-17.7 17.7l-17.7 -17.7z"/><path d="M1650.03 548.86l17.7 17.7l-17.7 17.7l-17.7 -17.7z"/><path d="M1662.05 549.61l17.7 17.7l-17.7 17.7l-17.7 -17.7z"/><path d="M1674.07 550.37l17.7 17.7l-17.7 17.7l-17.7 -17.7z"/><path d="M1686.09 551.12l17.7 17.7l-17.7 17.7l-17.7 -17.7z"/></g>
<g fill="#000080"><path d="M271.68 1226.22l30 -17.2v34.4z"/><path d="M283.70 1226.03l30 -17.2v34.4z"/><path d="M295.72 1225.09l30 -17.2v34.4z"/><path d="M307.75 1217.73l30 -17.2v34.4z"/><path d="M319.77 1195.07l30 -17.2v34.4z"/><path d="M331.79 1165.24l30 -17.2v34.4z"/><path d="M343.81 1124.27l30 -17.2v34.4z"/><path d="M355.83 1086.89l30 -17.2v34.4z"/><path d="M367.85 1049.88l30 -17.2v34.4z"/><path d="M379.87 1012.69l30 -17.2v34.4z"/><path d="M391.89 977.95l30 -17.2v34.4z"/><path d="M403.91 943.02l30 -17.2v34.4z"/><path d="M415.93 908.28l30 -17.2v34.4z"/><path d="M427.95 878.83l30 -17.2v34.4z"/><path d="M439.97 858.63l30 -17.2v34.4z"/><path d="M451.99 846.92l30 -17.2v34.4z"/><path d="M464.01 842.96l30 -17.2v34.4z"/><path d="M476.04 839.94l30 -17.2v34.4z"/><path d="M488.06 836.54l30 -17.2v34.4z"/><path d="M500.08 831.06l30 -17.2v34.4z"/><path d="M512.10 824.46l30 -17.2v34.4z"/><path d="M524.12 816.53l30 -17.2v34.4z"/><path d="M536.14 808.41l30 -17.2v34.4z"/><path d="M548.16 799.53l30 -17.2v34.4z"/><path d="M560.18 789.53l30 -17.2v34.4z"/><path d="M572.20 778.20l30 -17.2v34.4z"/><path d="M584.22 766.12l30 -17.2v34.4z"/><path d="M596.24 746.67l30 -17.2v34.4z"/><path d="M608.26 734.02l30 -17.2v34.4z"/><path d="M620.28 716.08l30 -17.2v34.4z"/><path d="M632.31 699.09l30 -17.2v34.4z"/><path d="M644.33 681.72l30 -17.2v34.4z"/><path d="M656.35 661.90l30 -17.2v34.4z"/><path d="M668.37 640.75l30 -17.2v34.4z"/><path d="M680.39 621.50l30 -17.2v34.4z"/><path d="M692.41 600.16l30 -17.2v34.4z"/><path d="M704.43 576.18l30 -17.2v34.4z"/><path d="M716.45 552.21l30 -17.2v34.4z"/><path d="M728.47 531.44l30 -17.2v34.4z"/><path d="M740.49 510.29l30 -17.2v34.4z"/><path d="M752.51 489.15l30 -17.2v34.4z"/><path d="M764.53 469.32l30 -17.2v34.4z"/><path d="M776.55 452.90l30 -17.2v34.4z"/><path d="M788.58 436.47l30 -17.2v34.4z"/><path d="M800.60 428.35l30 -17.2v34.4z"/><path d="M812.62 421.93l30 -17.2v34.4z"/><path d="M824.64 417.59l30 -17.2v34.4z"/><path d="M836.66 415.33l30 -17.2v34.4z"/><path d="M848.68 417.59l30 -17.2v34.4z"/><path d="M860.70 421.75l30 -17.2v34.4z"/><path d="M872.72 426.84l30 -17.2v34.4z"/><path d="M884.74 436.66l30 -17.2v34.4z"/><path d="M896.76 441.38l30 -17.2v34.4z"/><path d="M908.78 450.63l30 -17.2v34.4z"/><path d="M920.80 454.41l30 -17.2v34.4z"/><path d="M932.82 461.39l30 -17.2v34.4z"/><path d="M944.85 467.81l30 -17.2v34.4z"/><path d="M956.87 474.61l30 -17.2v34.4z"/><path d="M968.89 477.06l30 -17.2v34.4z"/><path d="M980.91 482.92l30 -17.2v34.4z"/><path d="M992.93 488.39l30 -17.2v34.4z"/><path d="M1004.95 491.22l30 -17.2v34.4z"/><path d="M1016.97 496.70l30 -17.2v34.4z"/><path d="M1028.99 499.74l30 -17.2v34.4z"/><path d="M1041.01 502.55l30 -17.2v34.4z"/><path d="M1053.03 507.04l30 -17.2v34.4z"/><path d="M1065.05 511.24l30 -17.2v34.4z"/><path d="M1077.07 513.60l30 -17.2v34.4z"/><path d="M1089.09 515.58l30 -17.2v34.4z"/><path d="M1101.11 517.66l30 -17.2v34.4z"/><path d="M1113.14 519.73l30 -17.2v34.4z"/><path d="M1125.16 521.88l30 -17.2v34.4z"/><path d="M1137.18 524.08l30 -17.2v34.4z"/><path d="M1149.20 526.39l30 -17.2v34.4z"/><path d="M1161.22 528.61l30 -17.2v34.4z"/><path d="M1173.24 530.50l30 -17.2v34.4z"/><path d="M1185.26 532.19l30 -17.2v34.4z"/><path d="M1197.28 533.72l30 -17.2v34.4z"/><path d="M1209.30 535.14l30 -17.2v34.4z"/><path d="M1221.32 536.50l30 -17.2v34.4z"/><path d="M1233.34 537.86l30 -17.2v34.4z"/><path d="M1245.36 539.20l30 -17.2v34.4z"/><path d="M1257.38 540.52l30 -17.2v34.4z"/><path d="M1269.41 541.83l30 -17.2v34.4z"/><path d="M1281.43 543.14l30 -17.2v34.4z"/><path d="M1293.45 544.55l30 -17.2v34.4z"/><path d="M1305.47 546.01l30 -17.2v34.4z"/><path d="M1317.49 547.36l30 -17.2v34.4z"/><path d="M1329.51 548.43l30 -17.2v34.4z"/><path d="M1341.53 549.22l30 -17.2v34.4z"/><path d="M1353.55 549.89l30 -17.2v34.4z"/><path d="M1365.57 550.48l30 -17.2v34.4z"/><path d="M1377.59 551.07l30 -17.2v34.4z"/><path d="M1389.61 551.64l30 -17.2v34.4z"/><path d="M1401.63 552.17l30 -17.2v34.4z"/><path d="M1413.65 552.72l30 -17.2v34.4z"/><path d="M1425.67 553.34l30 -17.2v34.4z"/><path d="M1437.70 554.09l30 -17.2v34.4z"/><path d="M1449.72 554.95l30 -17.2v34.4z"/><path d="M1461.74 555.86l30 -17.2v34.4z"/><path d="M1473.76 556.74l30 -17.2v34.4z"/><path d="M1485.78 557.61l30 -17.2v34.4z"/><path d="M1497.80 558.49l30 -17.2v34.4z"/><path d="M1509.82 559.35l30 -17.2v34.4z"/><path d="M1521.84 560.14l30 -17.2v34.4z"/><path d="M1533.86 560.84l30 -17.2v34.4z"/><path d="M1545.88 561.48l30 -17.2v34.4z"/><path d="M1557.90 562.11l30 -17.2v34.4z"/><path d="M1569.92 562.78l30 -17.2v34.4z"/><path d="M1581.94 563.51l30 -17.2v34.4z"/><path d="M1593.97 564.26l30 -17.2v34.4z"/><path d="M1605.99 565.04l30 -17.2v34.4z"/><path d="M1618.01 565.80l30 -17.2v34.4z"/><path d="M1630.03 566.56l30 -17.2v34.4z"/><path d="M1642.05 567.31l30 -17.2v34.4z"/><path d="M1654.07 568.07l30 -17.2v34.4z"/><path d="M1666.09 568.82l30 -17.2v34.4z"/></g>
<g fill="#8000ff"><path d="M311.68 1224.33l-30 -17.2v34.4z"/><path d="M323.70 1218.86l-30 -17.2v34.4z"/><path d="M335.72 1203.94l-30 -17.2v34.4z"/><path d="M347.75 1172.04l-30 -17.2v34.4z"/><path d="M359.77 1134.84l-30 -17.2v34.4z"/><path d="M371.79 1097.08l-30 -17.2v34.4z"/><path d="M383.81 1059.70l-30 -17.2v34.4z"/><path d="M395.83 1021.37l-30 -17.2v34.4z"/><path d="M407.85 985.69l-30 -17.2v34.4z"/><path d="M419.87 952.65l-30 -17.2v34.4z"/><path d="M431.89 928.30l-30 -17.2v34.4z"/><path d="M443.91 916.78l-30 -17.2v34.4z"/><path d="M455.93 915.27l-30 -17.2v34.4z"/><path d="M467.95 913.95l-30 -17.2v34.4z"/><path d="M479.97 913.38l-30 -17.2v34.4z"/><path d="M491.99 909.42l-30 -17.2v34.4z"/><path d="M504.01 902.62l-30 -17.2v34.4z"/><path d="M516.04 895.82l-30 -17.2v34.4z"/><path d="M528.06 883.74l-30 -17.2v34.4z"/><path d="M540.08 872.98l-30 -17.2v34.4z"/><path d="M552.10 860.14l-30 -17.2v34.4z"/><path d="M564.12 848.62l-30 -17.2v34.4z"/><path d="M576.14 834.84l-30 -17.2v34.4z"/><path d="M588.16 819.74l-30 -17.2v34.4z"/><path d="M600.18 805.20l-30 -17.2v34.4z"/><path d="M612.20 789.91l-30 -17.2v34.4z"/><path d="M624.22 771.59l-30 -17.2v34.4z"/><path d="M636.24 755.54l-30 -17.2v34.4z"/><path d="M648.26 741.57l-30 -17.2v34.4z"/><path d="M660.28 720.43l-30 -17.2v34.4z"/><path d="M672.31 705.32l-30 -17.2v34.4z"/><path d="M684.33 685.69l-30 -17.2v34.4z"/><path d="M696.35 664.54l-30 -17.2v34.4z"/><path d="M708.37 643.21l-30 -17.2v34.4z"/><path d="M720.39 621.87l-30 -17.2v34.4z"/><path d="M732.41 598.84l-30 -17.2v34.4z"/><path d="M744.43 579.96l-30 -17.2v34.4z"/><path d="M756.45 554.85l-30 -17.2v34.4z"/><path d="M768.47 534.65l-30 -17.2v34.4z"/><path d="M780.49 515.39l-30 -17.2v34.4z"/><path d="M792.51 492.17l-30 -17.2v34.4z"/><path d="M804.53 470.27l-30 -17.2v34.4z"/><path d="M816.55 457.81l-30 -17.2v34.4z"/><path d="M828.58 440.06l-30 -17.2v34.4z"/><path d="M840.60 425.71l-30 -17.2v34.4z"/><path d="M852.62 422.12l-30 -17.2v34.4z"/><path d="M864.64 419.10l-30 -17.2v34.4z"/><path d="M876.66 420.05l-30 -17.2v34.4z"/><path d="M888.68 419.67l-30 -17.2v34.4z"/><path d="M900.70 423.26l-30 -17.2v34.4z"/><path d="M912.72 428.35l-30 -17.2v34.4z"/><path d="M924.74 438.17l-30 -17.2v34.4z"/><path d="M936.76 442.89l-30 -17.2v34.4z"/><path d="M948.78 452.14l-30 -17.2v34.4z"/><path d="M960.80 455.92l-30 -17.2v34.4z"/><path d="M972.82 462.90l-30 -17.2v34.4z"/><path d="M984.85 469.32l-30 -17.2v34.4z"/><path d="M996.87 476.12l-30 -17.2v34.4z"/><path d="M1008.89 478.57l-30 -17.2v34.4z"/><path d="M1020.91 484.43l-30 -17.2v34.4z"/><path d="M1032.93 489.90l-30 -17.2v34.4z"/><path d="M1044.95 492.73l-30 -17.2v34.4z"/><path d="M1056.97 498.21l-30 -17.2v34.4z"/><path d="M1068.99 501.25l-30 -17.2v34.4z"/><path d="M1081.01 504.06l-30 -17.2v34.4z"/><path d="M1093.03 508.56l-30 -17.2v34.4z"/><path d="M1105.05 512.75l-30 -17.2v34.4z"/><path d="M1117.07 515.11l-30 -17.2v34.4z"/><path d="M1129.09 517.09l-30 -17.2v34.4z"/><path d="M1141.11 519.17l-30 -17.2v34.4z"/><path d="M1153.14 521.24l-30 -17.2v34.4z"/><path d="M1165.16 523.39l-30 -17.2v34.4z"/><path d="M1177.18 525.59l-30 -17.2v34.4z"/><path d="M1189.20 527.91l-30 -17.2v34.4z"/><path d="M1201.22 530.12l-30 -17.2v34.4z"/><path d="M1213.24 532.01l-30 -17.2v34.4z"/><path d="M1225.26 533.70l-30 -17.2v34.4z"/><path d="M1237.28 535.23l-30 -17.2v34.4z"/><path d="M1249.30 536.65l-30 -17.2v34.4z"/><path d="M1261.32 538.01l-30 -17.2v34.4z"/><path d="M1273.34 539.37l-30 -17.2v34.4z"/><path d="M1285.36 540.72l-30 -17.2v34.4z"/><path d="M1297.38 542.03l-30 -17.2v34.4z"/><path d="M1309.41 543.34l-30 -17.2v34.4z"/><path d="M1321.43 544.65l-30 -17.2v34.4z"/><path d="M1333.45 546.06l-30 -17.2v34.4z"/><path d="M1345.47 547.52l-30 -17.2v34.4z"/><path d="M1357.49 548.87l-30 -17.2v34.4z"/><path d="M1369.51 549.94l-30 -17.2v34.4z"/><path d="M1381.53 550.74l-30 -17.2v34.4z"/><path d="M1393.55 551.40l-30 -17.2v34.4z"/><path d="M1405.57 551.99l-30 -17.2v34.4z"/><path d="M1417.59 552.58l-30 -17.2v34.4z"/><path d="M1429.61 553.15l-30 -17.2v34.4z"/><path d="M1441.63 553.68l-30 -17.2v34.4z"/><path d="M1453.65 554.23l-30 -17.2v34.4z"/><path d="M1465.67 554.85l-30 -17.2v34.4z"/><path d="M1477.70 555.60l-30 -17.2v34.4z"/><path d="M1489.72 556.46l-30 -17.2v34.4z"/><path d="M1501.74 557.37l-30 -17.2v34.4z"/><path d="M1513.76 558.25l-30 -17.2v34.4z"/><path d="M1525.78 559.12l-30 -17.2v34.4z"/><path d="M1537.80 560.00l-30 -17.2v34.4z"/><path d="M1549.82 560.86l-30 -17.2v34.4z"/><path d="M1561.84 561.65l-30 -17.2v34.4z"/><path d="M1573.86 562.35l-30 -17.2v34.4z"/><path d="M1585.88 562.99l-30 -17.2v34.4z"/><path d="M1597.90 563.62l-30 -17.2v34.4z"/><path d="M1609.92 564.29l-30 -17.2v34.4z"/><path d="M1621.94 565.02l-30 -17.2v34.4z"/><path d="M1633.97 565.77l-30 -17.2v34.4z"/><path d="M1645.99 566.55l-30 -17.2v34.4z"/><path d="M1658.01 567.31l-30 -17.2v34.4z"/><path d="M1670.03 568.07l-30 -17.2v34.4z"/><path d="M1682.05 568.82l-30 -17.2v34.4z"/><path d="M1694.07 569.58l-30 -17.2v34.4z"/><path d="M1706.09 570.33l-30 -17.2v34.4z"/></g>
</g>
<g stroke="#000" stroke-width="4.6" stroke-linecap="round" stroke-linejoin="round"><line x1="243.6" y1="93.6" x2="243.6" y2="1255.1"/><line x1="243.6" y1="1255.1" x2="1686.1" y2="1255.1"/><line x1="243.60" y1="1255.1" x2="243.60" y2="1277.7"/><line x1="291.68" y1="1255.1" x2="291.68" y2="1265.5"/><line x1="339.77" y1="1255.1" x2="339.77" y2="1265.5"/><line x1="387.85" y1="1255.1" x2="387.85" y2="1265.5"/><line x1="435.93" y1="1255.1" x2="435.93" y2="1265.5"/><line x1="484.01" y1="1255.1" x2="484.01" y2="1277.7"/><line x1="532.10" y1="1255.1" x2="532.10" y2="1265.5"/><line x1="580.18" y1="1255.1" x2="580.18" y2="1265.5"/><line x1="628.26" y1="1255.1" x2="628.26" y2="1265.5"/><line x1="676.35" y1="1255.1" x2="676.35" y2="1265.5"/><line x1="724.43" y1="1255.1" x2="724.43" y2="1277.7"/><line x1="772.51" y1="1255.1" x2="772.51" y2="1265.5"/><line x1="820.60" y1="1255.1" x2="820.60" y2="1265.5"/><line x1="868.68" y1="1255.1" x2="868.68" y2="1265.5"/><line x1="916.76" y1="1255.1" x2="916.76" y2="1265.5"/><line x1="964.85" y1="1255.1" x2="964.85" y2="1277.7"/><line x1="1012.93" y1="1255.1" x2="1012.93" y2="1265.5"/><line x1="1061.01" y1="1255.1" x2="1061.01" y2="1265.5"/><line x1="1109.09" y1="1255.1" x2="1109.09" y2="1265.5"/><line x1="1157.18" y1="1255.1" x2="1157.18" y2="1265.5"/><line x1="1205.26" y1="1255.1" x2="1205.26" y2="1277.7"/><line x1="1253.34" y1="1255.1" x2="1253.34" y2="1265.5"/><line x1="1301.43" y1="1255.1" x2="1301.43" y2="1265.5"/><line x1="1349.51" y1="1255.1" x2="1349.51" y2="1265.5"/><line x1="1397.59" y1="1255.1" x2="1397.59" y2="1265.5"/><line x1="1445.67" y1="1255.1" x2="1445.67" y2="1277.7"/><line x1="1493.76" y1="1255.1" x2="1493.76" y2="1265.5"/><line x1="1541.84" y1="1255.1" x2="1541.84" y2="1265.5"/><line x1="1589.92" y1="1255.1" x2="1589.92" y2="1265.5"/><line x1="1638.01" y1="1255.1" x2="1638.01" y2="1265.5"/><line x1="1686.09" y1="1255.1" x2="1686.09" y2="1277.7"/><line x1="243.6" y1="1226.60" x2="221.0" y2="1226.60"/><line x1="243.6" y1="1132.20" x2="233.2" y2="1132.20"/><line x1="243.6" y1="1037.80" x2="221.0" y2="1037.80"/><line x1="243.6" y1="943.40" x2="233.2" y2="943.40"/><line x1="243.6" y1="849.00" x2="221.0" y2="849.00"/><line x1="243.6" y1="754.60" x2="233.2" y2="754.60"/><line x1="243.6" y1="660.20" x2="221.0" y2="660.20"/><line x1="243.6" y1="565.80" x2="233.2" y2="565.80"/><line x1="243.6" y1="471.40" x2="221.0" y2="471.40"/><line x1="243.6" y1="377.00" x2="233.2" y2="377.00"/><line x1="243.6" y1="282.60" x2="221.0" y2="282.60"/><line x1="243.6" y1="188.20" x2="233.2" y2="188.20"/><line x1="243.6" y1="93.80" x2="221.0" y2="93.80"/></g>
<g font-family="Liberation Sans, Arial, sans-serif" font-size="60" fill="#000"><text transform="translate(243.60,1341.00) scale(1,1.055)" text-anchor="middle">0.0</text><text transform="translate(484.01,1341.00) scale(1,1.055)" text-anchor="middle">0.5</text><text transform="translate(724.43,1341.00) scale(1,1.055)" text-anchor="middle">1.0</text><text transform="translate(964.85,1341.00) scale(1,1.055)" text-anchor="middle">1.5</text><text transform="translate(1205.26,1341.00) scale(1,1.055)" text-anchor="middle">2.0</text><text transform="translate(1445.67,1341.00) scale(1,1.055)" text-anchor="middle">2.5</text><text transform="translate(1686.09,1341.00) scale(1,1.055)" text-anchor="middle">3.0</text><text transform="translate(204.50,1244.60) scale(1,1.055)" text-anchor="end">0.0</text><text transform="translate(204.50,1055.80) scale(1,1.055)" text-anchor="end">0.1</text><text transform="translate(204.50,867.00) scale(1,1.055)" text-anchor="end">0.2</text><text transform="translate(204.50,678.20) scale(1,1.055)" text-anchor="end">0.3</text><text transform="translate(204.50,489.40) scale(1,1.055)" text-anchor="end">0.4</text><text transform="translate(204.50,300.60) scale(1,1.055)" text-anchor="end">0.5</text><text transform="translate(204.50,111.80) scale(1,1.055)" text-anchor="end">0.6</text></g>
<g font-family="Liberation Sans, Arial, sans-serif" font-size="60" fill="#000"><text transform="translate(653.50,148.60) scale(1,1.065)">Diversity on Energy</text><text transform="translate(737.00,223.00) scale(1,1.065)">L=128</text></g>
<text x="965.5" y="1440.3" text-anchor="middle" font-family="Liberation Serif, Times New Roman, serif" font-style="italic" font-size="64">T</text>
<text transform="translate(92.5,674.5) rotate(-90)" text-anchor="middle" font-family="Liberation Serif, Times New Roman, serif" font-style="italic" font-size="76">div</text>
<rect x="266.1" y="64.0" width="252.5" height="527.8" fill="#fff" stroke="#000" stroke-width="2" stroke-linejoin="round"/>
<g fill="#000000"><rect x="321.65" y="94.85" width="24.7" height="24.7"/></g><g fill="#ff0000"><circle cx="334.00" cy="180.80" r="14"/></g><g fill="#0000ff"><path d="M334.00 235.40l17 29.4h-34z"/></g><g fill="#ff00ff"><path d="M334.00 348.80l17 -29.4h-34z"/></g><g fill="#008000"><path d="M334.00 386.30l17.7 17.7l-17.7 17.7l-17.7 -17.7z"/></g><g fill="#000080"><path d="M314.00 478.00l30 -17.2v34.4z"/></g><g fill="#8000ff"><path d="M354.00 552.50l-30 -17.2v34.4z"/></g>
<g font-family="Liberation Serif, Times New Roman, serif" font-style="italic" font-size="60" fill="#000"><text transform="translate(410.00,125.20) scale(1,1.040)">q=2</text><text transform="translate(410.00,198.80) scale(1,1.040)">q=3</text><text transform="translate(410.00,273.00) scale(1,1.040)">q=4</text><text transform="translate(410.00,347.20) scale(1,1.040)">q=5</text><text transform="translate(410.00,422.00) scale(1,1.040)">q=6</text><text transform="translate(410.00,496.00) scale(1,1.040)">q=7</text><text transform="translate(410.00,570.50) scale(1,1.040)">q=8</text></g>
</svg></body></html>
